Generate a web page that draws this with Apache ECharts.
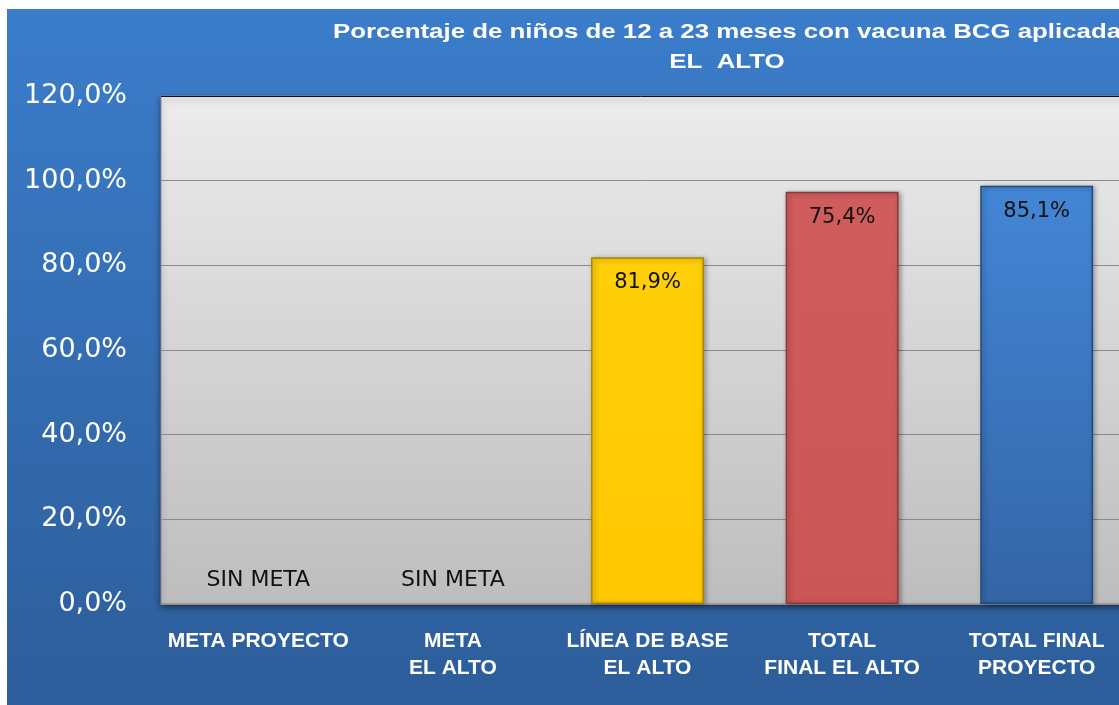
<!DOCTYPE html>
<html>
<head>
<meta charset="utf-8">
<script src="https://cdn.jsdelivr.net/npm/echarts@6/dist/echarts.min.js"></script>
<style>
  html, body { margin: 0; padding: 0; background: #fff; }
  #chart { position: absolute; left: 7px; top: 9px; width: 1112px; height: 696px; }
</style>
</head>
<body>
<div id="chart"></div>
<script>
// datos
const titulo = 'Porcentaje de niños de 12 a 23 meses con vacuna BCG aplicada\nEL  ALTO'
const categorias = ['META PROYECTO', 'META\nEL ALTO', 'LÍNEA DE BASE\nEL ALTO', 'TOTAL\nFINAL EL ALTO', 'TOTAL FINAL\nPROYECTO']
const valores = [0, 0, 81.9, 97.4, 98.8]
const etiquetas = ['SIN META', 'SIN META', '81,9%', '75,4%', '85,1%']
const ejeY = [0, 20, 40, 60, 80, 100, 120]

// centro arriba, centro abajo, borde
const colores = [
    null,
    null,
    ['#ffcf0a', '#ffc800', '#a88600'],
    ['#d05c5c', '#cb5656', '#8e3a3a'],
    ['#4386d6', '#3465a6', '#1f4a80']
]

function barStyle(c) {
    if (!c) {
        return { color: 'transparent', borderWidth: 0 }
    }
    return {
        color: {
            type: 'linear', x: 0, y: 0, x2: 0, y2: 1,
            colorStops: [
                { offset: 0, color: c[0] },
                { offset: 1, color: c[1] }
            ]
        },
        borderColor: c[2],
        borderWidth: 1.5,
        shadowColor: 'rgba(0,0,0,0.35)',
        shadowBlur: 5,
        shadowOffsetX: 2,
        shadowOffsetY: 1
    }
}

const chart = echarts.init(document.getElementById('chart'))
chart.setOption({
    backgroundColor: {
        type: 'linear', x: 0, y: 0, x2: 0, y2: 1,
        colorStops: [
            { offset: 0, color: '#3b7dcb' },
            { offset: 1, color: '#2d5d9a' }
        ]
    },
    // titulo ensanchado como en la imagen original
    graphic: [{
        type: 'text',
        x: 720,
        y: 8,
        scaleX: 1.23,
        style: {
            text: titulo,
            align: 'center',
            textAlign: 'center',
            fill: '#fff',
            fontFamily: 'Liberation Sans, Arial',
            fontWeight: 'bold',
            fontSize: 21,
            lineHeight: 30
        }
    }],
    grid: {
        left: 154,
        top: 87,
        width: 973,
        height: 508,
        outerBoundsMode: 'none',
        show: true,
        borderColor: '#8a8a8a',
        borderWidth: 1,
        shadowColor: 'rgba(0,0,0,0.45)',
        shadowBlur: 6,
        shadowOffsetY: 3,
        backgroundColor: {
            type: 'linear', x: 0, y: 0, x2: 0, y2: 1,
            colorStops: [
                { offset: 0, color: '#ececec' },
                { offset: 1, color: '#bdbdbd' }
            ]
        }
    },
    xAxis: {
        type: 'category',
        data: categorias,
        axisTick: { show: false },
        axisLine: { lineStyle: { color: '#8a8a8a' } },
        axisLabel: {
            interval: 0,
            margin: 24,
            color: '#fff',
            fontFamily: 'Liberation Sans, Arial',
            fontWeight: 'bold',
            fontSize: 21,
            lineHeight: 27
        }
    },
    yAxis: {
        type: 'value',
        min: ejeY[0],
        max: ejeY[ejeY.length - 1],
        interval: ejeY[1] - ejeY[0],
        axisLine: { show: false },
        axisTick: { show: false },
        axisLabel: {
            margin: 34,
            color: '#fff',
            fontFamily: 'DejaVu Sans',
            fontSize: 27,
            formatter: v => v.toFixed(1).replace('.', ',') + '%'
        },
        splitLine: {
            lineStyle: {
                color: ['#8a8a8a', '#8a8a8a', '#8a8a8a', '#8a8a8a', '#8a8a8a', '#8a8a8a', '#111']
            }
        }
    },
    series: [{
        type: 'bar',
        barWidth: '58%',
        data: valores.map((v, i) => ({
            value: v,
            itemStyle: barStyle(colores[i]),
            label: v === 0 ? { position: 'top', distance: 13, fontSize: 22 } : {}
        })),
        label: {
            show: true,
            position: 'insideTop',
            distance: 15,
            color: '#111',
            fontFamily: 'DejaVu Sans',
            fontSize: 21,
            formatter: p => etiquetas[p.dataIndex]
        }
    }]
})
</script>
</body>
</html>
